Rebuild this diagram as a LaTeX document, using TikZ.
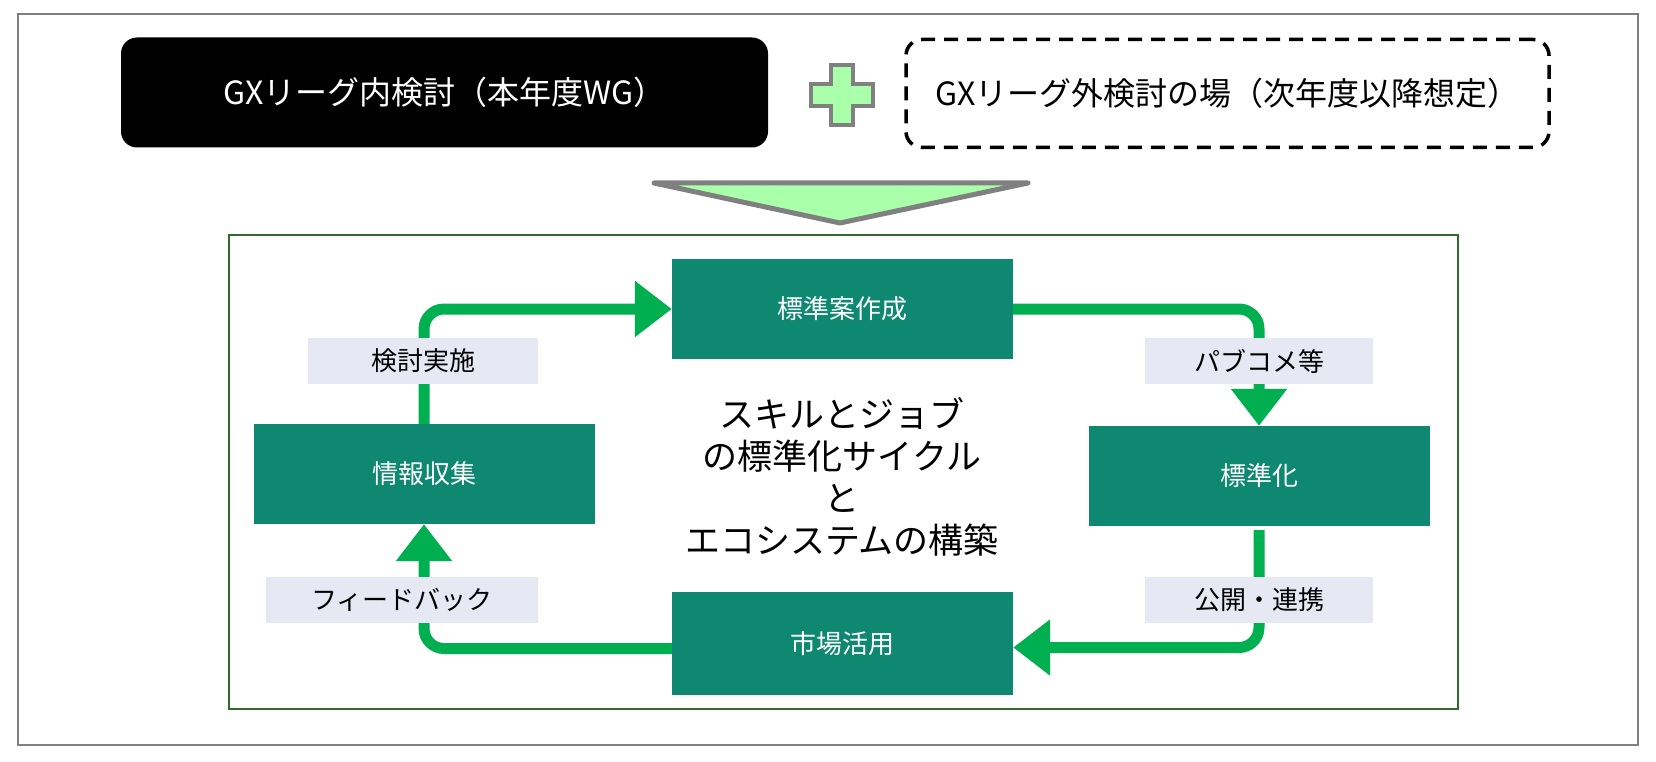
\documentclass[tikz,border=0pt]{standalone}
\usepackage{fontspec}
\setmainfont{Noto Sans CJK JP}
\usetikzlibrary{arrows.meta}
\definecolor{boxteal}{HTML}{0E8870}
\definecolor{arrgreen}{HTML}{00B050}
\definecolor{lblfill}{HTML}{E6E8F3}
\definecolor{lightgr}{HTML}{AAFFAA}
\definecolor{framegray}{HTML}{808080}
\definecolor{framegreen}{HTML}{2F6B2F}
\tikzset{
  stepbox/.style={fill=boxteal, text=white, minimum width=341pt, minimum height=100pt, inner sep=0pt, font=\fontsize{26}{30}\selectfont},
  lbl/.style={fill=lblfill, text=black, minimum height=46pt, inner sep=0pt, font=\fontsize{26}{30}\selectfont},
  arr/.style={draw=arrgreen, line width=11pt, rounded corners=20pt, -{Triangle[length=37pt,width=54pt]}},
  topbox/.style={minimum height=110pt, inner sep=0pt, rounded corners=16pt, font=\fontsize{32}{38}\selectfont}
}
\begin{document}
\begin{tikzpicture}[x=1pt,y=-1pt]
\useasboundingbox (0,0) rectangle (1656,762);
\fill[white] (0,0) rectangle (1656,762);
% outer frame
\draw[framegray, line width=2pt] (18,14) rectangle (1638,745);
% top boxes
\node[topbox, fill=black, text=white, minimum width=647pt] (inner) at (444.5,92.5) {GXリーグ内検討（本年度WG）};
\node[topbox, draw=black, line width=3.5pt, dash pattern=on 14pt off 9pt, minimum width=643pt, minimum height=108pt] (outer) at (1227.5,93.5) {GXリーグ外検討の場（次年度以降想定）};
% plus sign
\draw[framegray, fill=lightgr, line width=4pt]
  (831,65) -- (853,65) -- (853,84) -- (873,84) -- (873,106) -- (853,106) -- (853,125)
  -- (831,125) -- (831,106) -- (811,106) -- (811,84) -- (831,84) -- cycle;
% big triangle
\draw[framegray, fill=lightgr, line width=5pt, line join=round] (654,183) -- (1028,183) -- (840,223) -- cycle;
% green frame
\draw[framegreen, line width=2pt] (229,235) rectangle (1458,709);
% step boxes
\node[stepbox] (A) at (842.5,309) {標準案作成};
\node[stepbox] (B) at (1259,476) {標準化};
\node[stepbox, minimum height=103pt] (C) at (842.5,643.5) {市場活用};
\node[stepbox] (D) at (424,474) {情報収集};
% arrows
\draw[arr] (D.north) |- (A.west);
\draw[arr] (A.east) -| (B.north);
\draw[arr] ([yshift=-4pt]B.south) |- ([yshift=-4pt]C.east);
\draw[arr] ([yshift=-5pt]C.west) -| (D.south);
% labels
\node[lbl, minimum width=230pt] (L1) at (423,361) {検討実施};
\node[lbl, minimum width=228pt] (L2) at (1259,361) {パブコメ等};
\node[lbl, minimum width=272pt] (L3) at (402,600) {フィードバック};
\node[lbl, minimum width=228pt] (L4) at (1259,600) {公開・連携};
% centre text
\node[align=center, font=\fontsize{35}{42}\selectfont, inner sep=0pt] (T) at (842,477)
  {スキルとジョブ\\の標準化サイクル\\と\\エコシステムの構築};
\end{tikzpicture}
\end{document}
